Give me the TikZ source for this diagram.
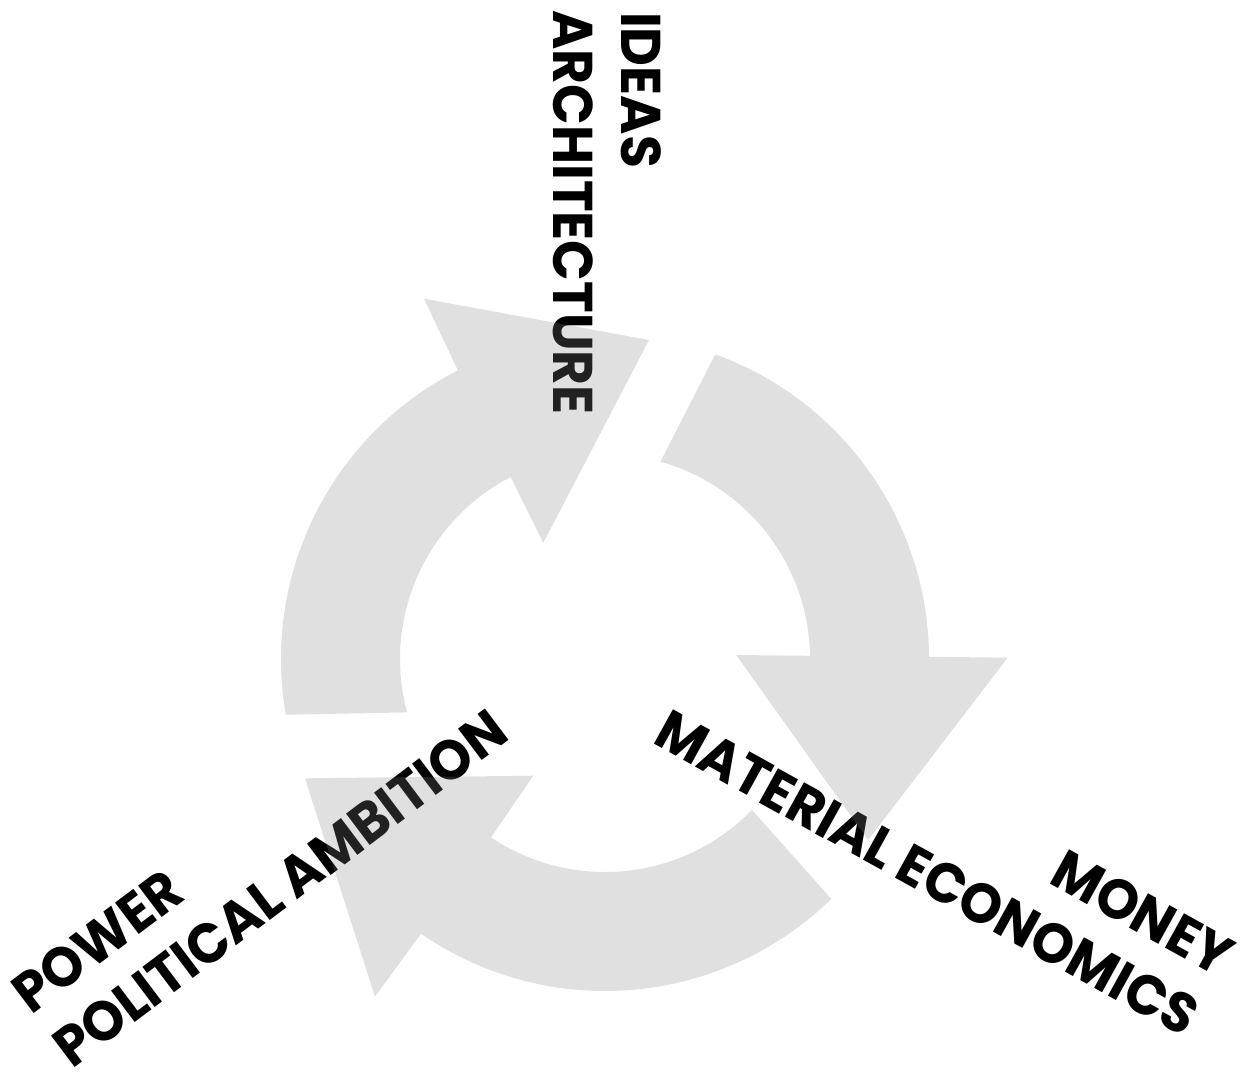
\documentclass[tikz,border=0pt]{standalone}
\usepackage{fontspec}
\setmainfont{Poppins}
\newfontfamily\lblfont[FakeStretch=0.955]{Poppins}
\definecolor{arrowgray}{RGB}{135,135,135}
\tikzset{
  lbl/.style={inner sep=0pt, font=\lblfont\fontsize{56}{68}\selectfont\bfseries, text=black},
  cyc/.style={fill=arrowgray, fill opacity=0.25, draw=none},
}
\begin{document}
\begin{tikzpicture}[x=1pt,y=1pt]
\fill[white] (0,0) rectangle (1249,-1074);
\useasboundingbox (0,0) rectangle (1249,-1074);
\coordinate (C1) at (605,-659);
\coordinate (C2) at (605,-667);
% labels
\node[lbl, rotate=-90, anchor=base west] (ideas) at (621,-12) {IDEAS};
\node[lbl, rotate=-90, anchor=base west] (arch) at (553,-10) {ARCHITECTURE};
\node[lbl, rotate=37, anchor=base west] (power) at (31,-1016) {POWER};
\node[lbl, rotate=37, anchor=base west] (polit) at (72,-1070) {POLITICAL AMBITION};
\node[lbl, rotate=-29, anchor=base east] (money) at (1219,-978) {MONEY};
\node[lbl, rotate=-29, anchor=base east] (mat) at (1184,-1038) {MATERIAL ECONOMICS};
% cycle arrows
\fill[cyc] ([shift={(C1)}]189.9:324) arc[start angle=189.9, end angle=117, radius=324pt]
  -- (424,-298.7) -- (649,-340) -- (543.3,-542.7)
  -- ([shift={(C1)}]117.4:205) arc[start angle=117.4, end angle=195.1, radius=205pt] -- cycle;
\fill[cyc] ([shift={(C1)}]70.1:324) arc[start angle=70.1, end angle=0.4, radius=324pt]
  -- (1007.7,-657.7) -- (868,-840) -- (736.3,-655)
  -- ([shift={(C1)}]0.9:205) arc[start angle=0.9, end angle=74.3, radius=205pt] -- cycle;
\fill[cyc] ([shift={(C2)}]-45.7:324) arc[start angle=-45.7, end angle=-124.6, radius=324pt]
  -- (375,-996.7) -- (305,-778.3) -- (533.3,-775.7)
  -- ([shift={(C2)}]-123.8:205) arc[start angle=-123.8, end angle=-44.2, radius=205pt] -- cycle;
\end{tikzpicture}
\end{document}
